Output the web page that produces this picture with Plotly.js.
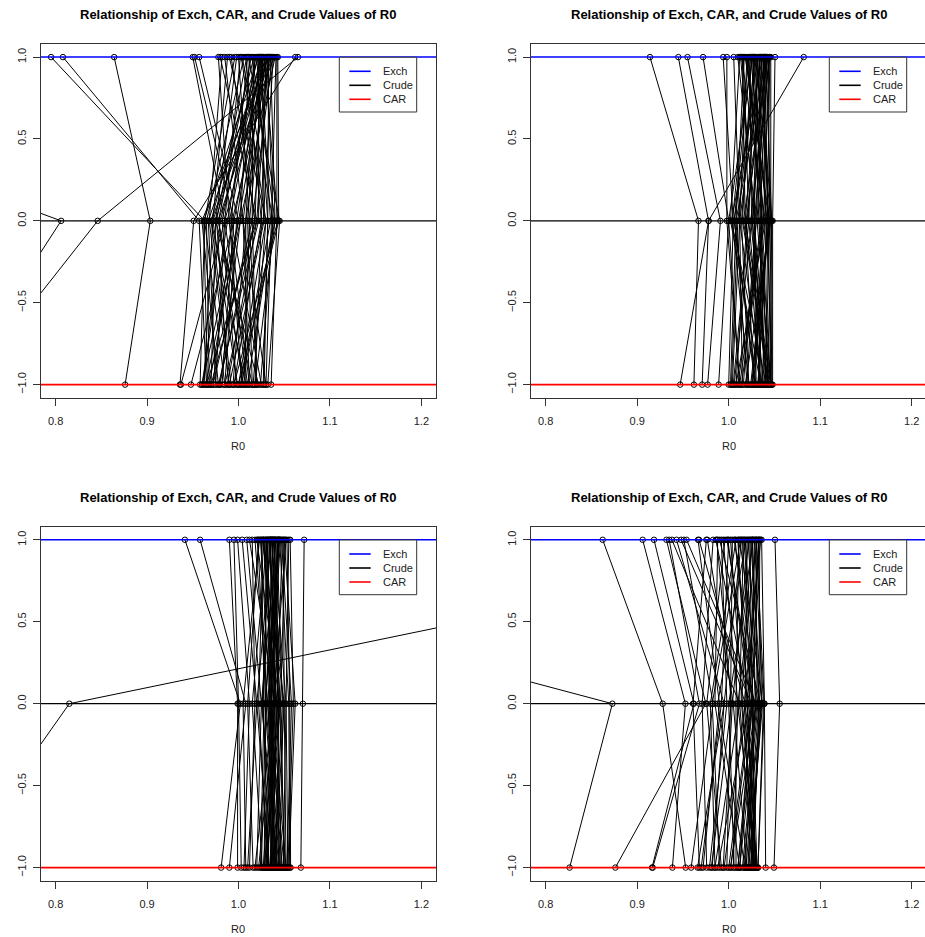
<!DOCTYPE html>
<html>
<head>
<meta charset="utf-8">
<script src="https://cdn.plot.ly/plotly-3.0.1.min.js"></script>
<style>html,body{margin:0;padding:0;background:#fff;}#chart{width:925px;height:937px;}</style>
</head>
<body>
<div id="chart"></div>
<script>
// ---------------- DATA ----------------
const seriesNames = ["Exch", "Crude", "CAR"];
const seriesLevels = [1, 0, -1];
const chartTitle = "Relationship of Exch, CAR, and Crude Values of R0";
const xTickVals = [0.8, 0.9, 1.0, 1.1, 1.2];
const yTickVals = [-1, -0.5, 0, 0.5, 1];

// Panel 1 (top-left)
const ex1 = [0.795,0.808,0.864,0.32,1.065,1.062,1.042,0.950,0.952,0.957,
  0.980,0.982,0.985,0.988,0.990,0.998,1.000,1.002,1.004,1.006,1.008,1.010,1.012,1.014,1.015,1.016,1.017,1.018,1.019,1.020,
  1.021,1.022,1.022,1.023,1.024,1.024,1.025,1.025,1.026,1.026,1.027,1.027,1.028,1.028,1.029,1.029,1.030,1.030,1.031,1.031,
  1.032,1.032,1.033,1.033,1.034,1.035,1.035,1.036,1.037,1.038,1.039,1.040,1.041,1.043,0.992,0.996,1.011,1.003,0.978,1.009];
const cr1 = [0.963,0.957,0.9035,0.806,0.846,0.951,1.042,0.985,0.995,1.000,
  1.020,0.968,1.005,0.972,1.030,0.975,1.012,0.985,1.038,0.965,1.025,0.992,1.002,0.978,1.040,1.015,0.970,1.008,0.988,1.032,
  0.982,1.022,0.962,1.010,0.998,1.035,0.975,1.018,0.990,1.028,0.967,1.005,1.043,0.980,1.012,0.995,1.025,0.972,1.038,1.000,
  0.985,1.020,0.960,1.032,1.008,0.978,1.040,0.993,1.015,1.027,0.970,1.002,1.036,1.044,1.018,0.963,1.045,1.030,0.990,0.976];
const car1 = [0.985,0.965,0.876,0.69,0.705,0.936,1.0357,0.937,0.948,0.960,
  0.965,0.990,1.012,0.962,1.000,0.970,1.020,0.975,1.010,0.968,0.995,1.025,0.980,1.005,1.018,0.972,0.992,1.008,0.960,1.028,
  0.998,0.978,0.966,1.015,0.985,1.002,1.022,0.970,1.012,0.990,0.975,1.030,0.995,0.962,1.006,0.982,1.018,0.999,1.024,0.968,
  1.010,0.988,0.978,1.027,0.994,1.015,1.003,0.972,1.020,0.985,1.008,0.964,1.030,1.000,0.979,0.958,1.032,1.016,1.004,0.989];

// Panel 2 (top-right)
const ex2 = [0.914,0.945,1.082,0.955,0.972,0.994,0.998,1.0055,1.0506,
  1.010,1.012,1.014,1.015,1.017,1.018,1.020,1.021,1.022,1.023,1.024,1.025,1.026,1.027,1.028,1.029,1.030,1.031,1.032,1.033,
  1.034,1.035,1.035,1.036,1.037,1.038,1.039,1.040,1.040,1.041,1.042,1.043,1.043,1.044,1.045,1.045,1.046,1.013,1.019,1.026,
  1.031,1.037,1.041,1.016,1.028,1.033,1.044,1.020,1.024,1.039,1.029,1.034,1.042];
const cr2 = [0.967,0.978,0.978,0.991,1.000,1.005,0.998,1.012,1.048,
  1.030,1.002,1.040,1.018,1.008,1.045,1.012,1.035,1.004,1.025,1.042,1.015,1.000,1.038,1.022,1.010,1.046,1.028,1.006,1.036,
  1.018,1.044,1.012,1.030,1.003,1.040,1.020,1.047,1.026,1.008,1.034,1.045,1.016,1.038,1.024,1.042,1.046,1.028,1.044,1.033,
  1.041,1.043,1.031,1.022,1.014,1.047,1.028,1.037,1.006,1.043,1.036,1.026,1.019];
const car2 = [0.962,0.947,0.971,0.977,0.989,1.000,1.012,1.004,1.048,
  1.020,1.035,1.008,1.028,1.002,1.040,1.015,1.046,1.022,1.006,1.032,1.044,1.012,1.026,1.038,1.003,1.018,1.042,1.030,1.010,
  1.047,1.024,1.036,1.016,1.041,1.028,1.008,1.045,1.034,1.020,1.039,1.026,1.046,1.014,1.043,1.032,1.047,1.036,1.025,1.044,
  1.037,1.040,1.046,1.005,1.022,1.042,1.030,1.012,1.029,1.046,1.033,1.041,1.035];

// Panel 3 (bottom-left)
const ex3 = [0.9414,0.958,1.683,1.0718,0.990,0.995,0.999,1.004,
  1.009,1.012,1.015,1.018,1.020,1.022,1.024,1.025,1.026,1.027,1.028,1.029,1.030,1.031,1.032,1.033,1.034,1.035,1.035,1.036,
  1.037,1.038,1.038,1.039,1.040,1.041,1.041,1.042,1.043,1.044,1.045,1.045,1.046,1.047,1.048,1.049,1.050,1.051,1.052,1.053,
  1.055,1.0565,1.023,1.027,1.032,1.036,1.040,1.043,1.030,1.034,1.037,1.039,1.044,1.021];
const cr3 = [1.002,1.008,0.815,1.0704,0.999,1.000,1.012,1.020,
  1.025,1.040,1.018,1.032,1.045,1.010,1.035,1.028,1.050,1.022,1.038,1.030,1.042,1.015,1.034,1.046,1.026,1.040,1.036,1.020,
  1.044,1.030,1.052,1.038,1.033,1.043,1.025,1.048,1.036,1.040,1.055,1.029,1.034,1.058,1.042,1.050,1.062,1.046,1.038,1.056,
  1.052,1.060,1.005,1.041,1.027,1.049,1.039,1.032,1.036,1.044,1.036,1.045,1.035,1.030];
const car3 = [0.981,0.990,0.6885,1.0682,0.999,1.003,1.006,1.010,
  1.020,1.035,1.012,1.045,1.028,1.016,1.040,1.024,1.052,1.032,1.018,1.044,1.036,1.026,1.050,1.030,1.038,1.022,1.046,1.034,
  1.041,1.028,1.054,1.036,1.048,1.031,1.043,1.039,1.052,1.027,1.056,1.042,1.035,1.053,1.047,1.040,1.055,1.050,1.032,1.057,
  1.049,1.054,1.008,1.038,1.033,1.045,1.030,1.040,1.037,1.044,1.029,1.051,1.038,1.025];

// Panel 4 (bottom-right)
const ex4 = [0.20,0.8623,0.906,0.9184,0.932,0.935,1.0506,1.030,
  0.938,0.943,0.948,0.951,0.954,0.9665,0.9676,0.9756,0.9767,0.983,0.986,0.988,0.990,0.992,0.994,0.996,0.998,1.000,1.002,1.004,
  1.006,1.008,1.010,1.011,1.012,1.014,1.015,1.016,1.018,1.019,1.020,1.021,1.022,1.023,1.024,1.025,1.026,1.027,1.028,1.029,
  1.030,1.031,1.032,1.033,1.034,1.035,1.036,0.999,1.013,1.017,1.026,1.033,0.987,1.007];
const cr4 = [0.8729,0.9279,0.9527,0.962,0.975,0.968,1.0557,1.039,
  1.012,0.995,1.025,0.983,1.030,0.990,1.018,0.961,1.005,0.971,1.022,0.985,1.035,0.998,1.010,0.976,1.028,0.992,1.015,1.002,
  1.032,0.980,1.020,1.008,1.037,0.995,1.025,1.012,1.030,0.988,1.018,1.034,1.004,1.026,1.036,1.014,1.029,1.000,1.038,1.022,
  1.031,1.010,1.036,1.025,1.033,1.017,1.039,1.024,0.982,1.027,1.033,1.020,1.003,1.026];
const car4 = [0.8262,0.953,0.9385,0.9162,0.8762,0.917,1.0495,1.0404,
  0.985,0.966,1.002,0.959,1.010,0.972,0.995,0.968,1.020,0.976,0.988,1.012,1.025,0.979,1.005,0.992,1.018,0.970,1.028,0.998,
  1.015,0.985,1.030,1.008,1.022,0.982,1.012,1.026,1.002,1.018,1.031,1.024,0.994,1.028,1.016,1.030,1.021,1.006,1.032,1.026,
  1.012,1.029,1.024,1.031,1.019,1.027,1.032,1.000,0.990,1.022,1.027,1.030,0.981,1.010];

// ---------------- LAYOUT HELPERS ----------------
const W = 925, H = 937;
const FONT = "Liberation Sans, Arial, Helvetica, sans-serif";
const panels = [
  {ex: ex1, cr: cr1, car: car1, box: [41, 436, 44, 397.7], xr: [0.784, 1.216], mirrorY: true},
  {ex: ex2, cr: cr2, car: car2, box: [531, 925, 44, 397.7], xr: [0.784, 1.2145], mirrorY: false},
  {ex: ex3, cr: cr3, car: car3, box: [41, 436, 526.7, 880.7], xr: [0.784, 1.216], mirrorY: true},
  {ex: ex4, cr: cr4, car: car4, box: [531, 925, 526.7, 880.7], xr: [0.784, 1.2145], mirrorY: false}
];
const px = v => v / W;
const py = v => 1 - v / H;
const lineColors = ["#0000ff", "#000000", "#ff0000"];
const lineWidths = [1.5, 1.3, 1.6];

const traces = [];
const layout = {
  width: W, height: H,
  margin: {l: 0, r: 0, t: 0, b: 0},
  paper_bgcolor: "#fff", plot_bgcolor: "#fff",
  showlegend: false,
  font: {family: FONT, size: 11, color: "#222"},
  shapes: [], annotations: []
};

panels.forEach((p, k) => {
  const sfx = k === 0 ? "" : String(k + 1);
  const xa = "x" + sfx, ya = "y" + sfx;
  const X = [], Y = [];
  for (let i = 0; i < p.ex.length; i++) {
    X.push(p.ex[i], p.cr[i], p.car[i], null);
    Y.push(seriesLevels[0], seriesLevels[1], seriesLevels[2], null);
  }
  traces.push({
    x: X, y: Y, xaxis: xa, yaxis: ya, type: "scatter", mode: "lines+markers",
    line: {color: "#000", width: 1}, connectgaps: false,
    marker: {symbol: "circle-open", size: 5.5, color: "#000", line: {width: 1, color: "#000"}},
    hoverinfo: "skip", showlegend: false
  });
  const [L, R, T, B] = p.box;
  layout["xaxis" + sfx] = {
    domain: [px(L), px(R)], range: p.xr, anchor: ya,
    tickvals: xTickVals, tickformat: ".1f", ticks: "outside", ticklen: 7, tickwidth: 1, tickcolor: "#333",
    showline: true, mirror: true, linecolor: "#333", linewidth: 1,
    showgrid: false, zeroline: false, ticklabelstandoff: 6,
    tickfont: {family: FONT, size: 11, color: "#222"}
  };
  layout["yaxis" + sfx] = {
    domain: [py(B), py(T)], range: [-1.08, 1.08], anchor: xa,
    tickvals: yTickVals, tickformat: ".1f", ticks: "outside", ticklen: 7, tickwidth: 1, tickcolor: "#333",
    tickangle: -90, ticklabelstandoff: 3,
    showline: true, mirror: p.mirrorY, linecolor: "#333", linewidth: 1,
    showgrid: false, zeroline: false,
    tickfont: {family: FONT, size: 11, color: "#222"}
  };
  // reference lines (abline)
  seriesLevels.forEach((lv, j) => {
    layout.shapes.push({type: "line", xref: xa + " domain", yref: ya, x0: 0, x1: 1, y0: lv, y1: lv,
      line: {color: lineColors[j], width: lineWidths[j]}, layer: "above"});
  });
  // title
  const cx = (L + (k % 2 === 1 ? 926 : R)) / 2;
  layout.annotations.push({xref: "paper", yref: "paper", x: px(cx), y: py(T - 29), xanchor: "center", yanchor: "middle",
    text: "<b>" + chartTitle + "</b>", showarrow: false, font: {family: FONT, size: 13, color: "#000"}});
  // x axis title
  layout.annotations.push({xref: "paper", yref: "paper", x: px(cx), y: py(B + 48.5), xanchor: "center", yanchor: "middle",
    text: "R0", showarrow: false, font: {family: FONT, size: 11, color: "#222"}});
  // legend box
  const lx0 = L + 298.3, lx1 = L + 375.7, ly0 = T + 13.3, ly1 = T + 68;
  layout.shapes.push({type: "rect", xref: "paper", yref: "paper", x0: px(lx0), x1: px(lx1), y0: py(ly1), y1: py(ly0),
    line: {color: "#333", width: 1}, fillcolor: "#fff", layer: "above"});
  seriesNames.forEach((nm, j) => {
    const ry = T + 27.3 + j * 14;
    layout.shapes.push({type: "line", xref: "paper", yref: "paper", x0: px(L + 308.3), x1: px(L + 329.7), y0: py(ry), y1: py(ry),
      line: {color: lineColors[j], width: 1.6}, layer: "above"});
    layout.annotations.push({xref: "paper", yref: "paper", x: px(L + 339.7), y: py(ry), xanchor: "left", yanchor: "middle",
      text: nm, showarrow: false, font: {family: FONT, size: 11, color: "#222"}});
  });
});

Plotly.newPlot("chart", traces, layout, {staticPlot: true, displayModeBar: false});
</script>
</body>
</html>
